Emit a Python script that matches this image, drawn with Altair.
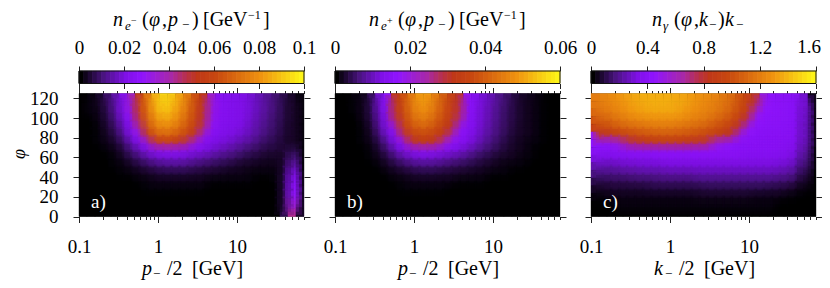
import numpy as np
import pandas as pd
import altair as alt

FONT = "Liberation Serif"
X_MAX = 70.5
PHI_MAX = 125
X_MAJOR = [0.1, 1, 10]
X_MINOR = [0.2, 0.3, 0.4, 0.5, 0.6, 0.7, 0.8, 0.9, 2, 3, 4, 5, 6, 7, 8, 9, 20, 30, 40, 50, 60, 70]
Y_TICKS = [0, 20, 40, 60, 80, 100, 120]
PAL_POS = [0, 10, 20, 27, 40, 47, 52, 60, 80, 100]
PAL_COL = ["#000000", "#4a1480", "#8010e8", "#9014ff", "#a828a8", "#b83048", "#c03818", "#c84810", "#f09410", "#ffff18"]

# Percent of each panel's colour range; rows run from the top of the plot down, columns left to right
GRID_A = [
[0,1,3,8,14,22,36,55,72,86,92,90,83,74,62,52,34,24,22,21,20,18,15,12,9,6,3,1],
[0,1,3,7,13,21,34,54,71,85,91,89,82,73,61,51,33,24,22,21,20,18,15,12,9,6,3,1],
[0,1,2,6,12,20,31,52,69,82,88,86,79,71,60,50,32,23,22,21,20,18,15,12,9,6,3,1],
[0,0,2,5,10,18,27,48,66,78,83,82,76,68,58,49,30,23,22,21,20,17,14,11,8,6,3,1],
[0,0,1,4,8,15,24,41,61,73,77,76,71,64,55,45,28,22,21,20,19,16,13,10,8,5,3,1],
[0,0,1,3,6,12,21,28,52,65,69,68,64,58,50,34,24,21,20,19,17,15,12,9,7,5,3,1],
[0,0,1,2,4,8,15,22,30,50,54,54,51,45,32,24,21,19,18,16,14,12,9,7,6,4,3,1],
[0,0,0,1,2,5,10,15,21,25,27,28,26,24,22,20,18,16,14,12,10,8,7,5,5,4,6,1],
[0,0,0,0,1,3,6,9,13,16,18,18,18,17,15,14,12,10,9,8,6,5,4,3,3,3,10,1],
[0,0,0,0,1,1,3,5,7,9,10,11,11,10,9,8,7,6,5,4,3,3,2,2,2,4,14,1],
[0,0,0,0,0,1,1,2,3,4,5,5,5,5,4,4,3,3,2,2,2,1,1,1,1,4,19,2],
[0,0,0,0,0,0,0,1,1,2,2,2,2,2,2,2,1,1,1,1,1,1,0,0,1,5,23,2],
[0,0,0,0,0,0,0,0,1,1,1,1,1,1,1,1,0,0,0,0,0,0,0,0,0,5,26,3],
[0,0,0,0,0,0,0,0,0,0,0,0,0,0,0,0,0,0,0,0,0,0,0,0,0,5,28,3],
[0,0,0,0,0,0,0,0,0,0,0,0,0,0,0,0,0,0,0,0,0,0,0,0,0,5,34,3],
[0,0,0,0,0,0,0,0,0,0,0,0,0,0,0,0,0,0,0,0,0,0,0,0,0,6,42,3],
]
GRID_B = [
[0,0,1,2,7,18,27,52,62,73,81,81,74,66,56,50,28,22,18,15,11,8,5,3,2,1,0,0],
[0,0,1,2,6,17,26,51,61,72,80,80,73,65,55,49,27,22,18,15,11,8,5,3,2,1,0,0],
[0,0,1,2,6,16,25,50,60,70,77,77,71,64,54,48,26,21,17,14,10,7,5,3,2,1,0,0],
[0,0,0,2,5,14,23,46,57,67,73,73,68,61,53,44,25,21,17,14,10,7,5,3,2,1,0,0],
[0,0,0,1,4,12,21,32,54,62,67,67,63,57,51,30,24,20,16,13,9,7,4,3,2,1,0,0],
[0,0,0,1,3,9,18,24,46,56,60,60,57,52,42,26,22,19,15,12,9,6,4,3,2,1,0,0],
[0,0,0,1,2,6,13,20,27,47,53,53,50,40,27,23,20,17,13,10,7,5,3,2,1,1,0,0],
[0,0,0,0,1,4,9,15,20,23,26,26,25,23,21,19,16,13,10,8,6,4,3,2,1,0,0,0],
[0,0,0,0,1,2,5,9,13,16,18,18,17,16,14,12,10,8,6,5,3,3,2,1,1,0,0,0],
[0,0,0,0,0,1,3,5,7,9,10,10,10,9,8,7,6,5,4,3,2,1,1,1,0,0,0,0],
[0,0,0,0,0,0,1,2,3,4,5,5,5,4,4,3,3,2,2,1,1,1,0,0,0,0,0,0],
[0,0,0,0,0,0,0,1,1,2,2,2,2,2,2,1,1,1,1,0,0,0,0,0,0,0,0,0],
[0,0,0,0,0,0,0,0,1,1,1,1,1,1,0,0,0,0,0,0,0,0,0,0,0,0,0,0],
[0,0,0,0,0,0,0,0,0,0,0,0,0,0,0,0,0,0,0,0,0,0,0,0,0,0,0,0],
[0,0,0,0,0,0,0,0,0,0,0,0,0,0,0,0,0,0,0,0,0,0,0,0,0,0,0,0],
[0,0,0,0,0,0,0,0,0,0,0,0,0,0,0,0,0,0,0,0,0,0,0,0,0,0,0,0],
]
GRID_C = [
[74,76,78,80,82,84,85,85,85,85,84,83,81,79,78,76,73,70,64,58,50,31,26,25,25,24,17,2],
[72,74,77,79,81,83,84,85,85,85,84,83,81,79,77,75,72,69,63,57,48,30,26,25,25,24,17,2],
[68,71,74,76,79,81,82,83,83,83,83,81,79,77,75,73,70,66,60,54,35,27,26,25,25,24,16,2],
[63,66,70,72,75,77,78,79,79,79,79,78,76,74,72,69,66,62,56,47,28,26,25,25,25,24,16,2],
[56,60,63,66,68,70,71,72,73,73,72,71,70,68,66,63,60,55,49,30,26,25,25,25,24,23,15,2],
[30,50,53,56,59,61,63,64,65,65,65,64,63,61,59,57,53,50,32,26,25,24,24,24,24,23,15,2],
[26,27,29,33,45,49,51,52,53,53,53,52,51,50,48,35,30,27,25,24,24,24,24,24,23,22,14,2],
[23,24,24,25,25,26,26,26,26,26,26,26,26,26,26,26,25,25,24,24,24,24,24,23,22,20,12,1],
[19,20,20,21,21,22,22,22,23,23,23,23,23,23,23,23,23,23,23,22,22,22,22,21,20,18,10,1],
[14,15,15,16,17,17,18,18,18,19,19,19,19,19,19,19,19,19,19,19,19,19,19,18,17,15,8,1],
[10,10,11,11,12,12,13,13,13,14,14,14,14,15,15,15,15,15,15,15,15,15,15,14,13,11,5,0],
[6,6,7,7,7,8,8,8,9,9,9,9,9,10,10,10,10,10,10,10,10,10,10,9,9,7,3,0],
[3,3,4,4,4,4,4,5,5,5,5,5,5,5,6,6,6,6,6,6,6,6,5,5,4,3,1,0],
[1,1,2,2,2,2,2,2,2,2,2,2,2,3,3,3,3,3,3,3,2,2,2,2,1,1,0,0],
[0,0,0,1,1,1,1,1,1,1,1,1,1,1,1,1,1,1,1,1,1,1,1,0,0,0,0,0],
[0,0,0,0,0,0,0,0,0,0,0,0,0,0,0,0,0,0,0,0,0,0,0,0,0,0,0,0],
]

BAR_A = [0, 0.02, 0.04, 0.06, 0.08, 0.1]
BAR_B = [0, 0.02, 0.04, 0.06]
BAR_C = [0, 0.4, 0.8, 1.2, 1.6]

# layout, in pixels inside the drawing
CW, CH = 814, 272
W = 225
PANEL_X = [71, 327, 583]
HEAT_TOP, HEAT_BOTTOM = 85.5, 208.5
BAR_TOP, BAR_BOTTOM = 63, 75.5
TITLE_Y = 18
XTITLE_Y = 267
BLANK = pd.DataFrame({"blank": [0]})

def title_e(sign):
    return [
    ("n", 34, 0, 20, "italic"), ("e", 46, 4, 13, "italic"), (sign, 52, -2, 10, "normal"),
    ("(", 63, 0, 20, "normal"), ("φ", 70, 0, 20, "italic"), (",", 83, 0, 20, "normal"),
    ("p", 89, 0, 20, "italic"), ("−", 103, 3, 13, "normal"), (")", 113, 0, 20, "normal"),
    ("[GeV", 124, 0, 20, "normal"), ("−1", 169, -7, 12, "normal"), ("]", 184, 0, 20, "normal"),
    ]
TITLE_G = [
    ("n", 61, 0, 20, "italic"), ("γ", 72, 4, 13, "italic"), ("(", 83, 0, 20, "normal"),
    ("φ", 90, 0, 20, "italic"), (",", 103, 0, 20, "normal"), ("k", 108, 0, 20, "italic"),
    ("−", 118, 3, 13, "normal"), (")", 127, 0, 20, "normal"), ("k", 134, 0, 20, "italic"),
    ("−", 145, 3, 13, "normal"),
]
def xtitle(v):
    return [(v, 63, 0, 20, "italic"), ("−", 74, 3, 13, "normal"), ("/2", 88, 0, 20, "normal"), ("[GeV]", 113, 0, 20, "normal")]

def text_layers(parts, x0, base):
    out = []
    for s, dx, dy, size, style in parts:
        out.append(alt.Chart(BLANK).mark_text(text=s, font=FONT, fontSize=size, fontStyle=style,
                   align="left", baseline="alphabetic", color="black")
                   .encode(x=alt.value(x0 + dx), y=alt.value(base + dy)))
    return out

COLOR = alt.Scale(domain=PAL_POS, range=PAL_COL, interpolate="rgb")
AX = dict(title=None, labelFont=FONT, labelFontSize=19, labelColor="black", domain=False,
          tickColor="#222222", tickWidth=1, grid=False, labelFlush=False, labelOverlap=False)

def heat(grid, x0, first, letter, xvar):
    arr = np.array(grid)
    assert arr.shape == (16, 28)
    xe = np.geomspace(0.1, X_MAX, 29)
    ye = np.linspace(PHI_MAX, 0, 17)
    rows = []
    for r in range(16):
        for c in range(28):
            edge = r in (0, 15) or c in (0, 27)
            rows.append(dict(x0=xe[c], x1=xe[c + 1], y0=ye[r + 1], y1=ye[r], pct=int(arr[r, c]), edge=edge))
    df = pd.DataFrame(rows)
    inner = df[~df.edge]
    xs = alt.Scale(type="log", domain=[0.1, X_MAX], range=[x0, x0 + W], nice=False)
    ys = alt.Scale(domain=[0, PHI_MAX], range=[HEAT_BOTTOM, HEAT_TOP], nice=False, zero=False)
    off_b = HEAT_BOTTOM - CH
    off_t = -HEAT_TOP
    xb = alt.Axis(values=X_MAJOR, orient="bottom", offset=off_b, tickSize=6, labelPadding=15, format="~g", **AX)
    xt = alt.Axis(values=X_MAJOR, orient="top", offset=off_t, tickSize=6, labels=False, **AX)
    xbm = alt.Axis(values=X_MINOR, orient="bottom", offset=off_b, tickSize=3, labels=False, **AX)
    xtm = alt.Axis(values=X_MINOR, orient="top", offset=off_t, tickSize=3, labels=False, **AX)
    yl = alt.Axis(values=Y_TICKS, orient="left", offset=-x0, tickSize=6, labels=first, labelPadding=15, **AX)
    yr = alt.Axis(values=Y_TICKS, orient="right", offset=x0 + W - CW, tickSize=6, labels=False, **AX)

    under = alt.Chart(pd.DataFrame({"x0": [0.1], "x1": [X_MAX], "y0": [0], "y1": [PHI_MAX]})).mark_rect(color="#000000").encode(
        x=alt.X("x0:Q", scale=xs, axis=None), x2="x1:Q",
        y=alt.Y("y0:Q", scale=ys, axis=None), y2="y1:Q")
    cells = alt.Chart(df).mark_rect(strokeWidth=0.4).encode(
        x=alt.X("x0:Q", scale=xs, axis=xb), x2="x1:Q",
        y=alt.Y("y0:Q", scale=ys, axis=yl), y2="y1:Q",
        color=alt.Color("pct:Q", scale=COLOR, legend=None),
        stroke=alt.Color("pct:Q", scale=COLOR, legend=None),
    )
    def soften(width, alpha):
        return alt.Chart(inner).mark_rect(fillOpacity=0, strokeWidth=width, strokeOpacity=alpha).encode(
            x=alt.X("x0:Q", scale=xs, axis=None), x2="x1:Q",
            y=alt.Y("y0:Q", scale=ys, axis=None), y2="y1:Q",
            stroke=alt.Color("pct:Q", scale=COLOR, legend=None),
        )
    anchor = pd.DataFrame({"x0": [1.0], "y0": [0.0]})
    def ghost(ax, ay=None):
        return alt.Chart(anchor).mark_point(opacity=0).encode(
            x=alt.X("x0:Q", scale=xs, axis=ax), y=alt.Y("y0:Q", scale=ys, axis=ay))
    layers = [under, cells, soften(12, 0.22), soften(6, 0.3), ghost(xt, yr), ghost(xbm), ghost(xtm)]
    layers += text_layers(xtitle(xvar), x0, XTITLE_Y)
    layers.append(alt.Chart(BLANK).mark_text(text=letter, font=FONT, fontSize=19, align="left",
                  baseline="alphabetic", color="white").encode(x=alt.value(x0 + 12), y=alt.value(200)))
    if first:
        layers.append(alt.Chart(BLANK).mark_text(text="φ", font=FONT, fontSize=18, fontStyle="italic",
                      angle=270, align="center", baseline="alphabetic", color="black")
                      .encode(x=alt.value(16.5), y=alt.value(146)))
    return layers

def bar(ticks, x0, title_parts, last_inside=False):
    zmax = ticks[-1]
    levels = pd.DataFrame({"pct": list(range(0, 100, 2))})
    levels["lo"] = levels.pct * zmax / 100
    levels["hi"] = (levels.pct + 2) * zmax / 100
    xs = alt.Scale(domain=[0, zmax], range=[x0, x0 + W], nice=False, zero=False)
    extra = {"labelExpr": f"datum.value >= {zmax} ? '' : datum.label"} if last_inside else {}
    top = alt.Axis(values=ticks, orient="top", offset=-BAR_TOP, tickSize=5, labelPadding=9, format="~g", **extra, **AX)
    bottom = alt.Axis(values=ticks, orient="bottom", offset=BAR_BOTTOM - CH, tickSize=5, labels=False, **AX)
    strip = alt.Chart(levels).mark_rect(strokeWidth=0.7).encode(
        x=alt.X("lo:Q", scale=xs, axis=top), x2="hi:Q",
        y=alt.value(BAR_TOP), y2=alt.value(BAR_BOTTOM),
        color=alt.Color("pct:Q", scale=COLOR, legend=None),
        stroke=alt.Color("pct:Q", scale=COLOR, legend=None),
    )
    frame = alt.Chart(pd.DataFrame({"lo": [0], "hi": [zmax]})).mark_rect(fill="transparent", stroke="#111111", strokeWidth=1).encode(
        x=alt.X("lo:Q", scale=xs, axis=bottom), x2="hi:Q",
        y=alt.value(BAR_TOP), y2=alt.value(BAR_BOTTOM))
    layers = [strip, frame] + text_layers(title_parts, x0, TITLE_Y)
    if last_inside:
        layers.append(alt.Chart(BLANK).mark_text(text=f"{zmax:g}", font=FONT, fontSize=19, align="right",
                      baseline="alphabetic", color="black").encode(x=alt.value(CW - 1), y=alt.value(45)))
    return layers

all_layers = []
all_layers += bar(BAR_A, PANEL_X[0], title_e("−")) + heat(GRID_A, PANEL_X[0], True, "a)", "p")
all_layers += bar(BAR_B, PANEL_X[1], title_e("+")) + heat(GRID_B, PANEL_X[1], False, "b)", "p")
all_layers += bar(BAR_C, PANEL_X[2], TITLE_G, True) + heat(GRID_C, PANEL_X[2], False, "c)", "k")

chart = alt.layer(*all_layers).resolve_scale(x="independent", y="independent").properties(
    width=CW, height=CH, padding=0, background="white", autosize="none",
).configure_view(stroke=None)

chart.save("out.html", embed_options={"renderer": "svg", "actions": False})
